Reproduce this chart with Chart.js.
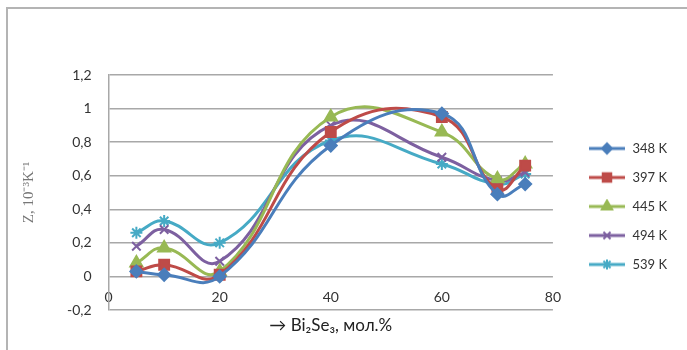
<!DOCTYPE html>
<html>
<head>
<meta charset="utf-8">
<script src="https://cdn.jsdelivr.net/npm/chart.js@4"></script>
<style>
  html, body { margin: 0; padding: 0; background: #fff; overflow: hidden; }
  #frame { position: absolute; left: 6px; top: 7px; width: 720px; height: 380px;
           border-left: 2px solid #b4b4b4; border-top: 2px solid #b4b4b4; }
  #wrap { position: absolute; left: 0; top: 0; width: 687px; height: 350px; }
</style>
</head>
<body>
<div id="frame"></div>
<div id="wrap"><canvas id="myChart"></canvas></div>
<script>
// composition, mol.% Bi2Se3
const xValues = [5, 10, 20, 40, 60, 70, 75];
const temps = ['348 K', '397 K', '445 K', '494 K', '539 K'];
const z348 = [0.03, 0.01, 0.00, 0.78, 0.97, 0.49, 0.55];
const z397 = [0.03, 0.07, 0.01, 0.86, 0.95, 0.52, 0.66];
const z445 = [0.08, 0.17, 0.03, 0.95, 0.86, 0.58, 0.67];
const z494 = [0.18, 0.28, 0.09, 0.90, 0.71, 0.57, 0.62];
const z539 = [0.26, 0.33, 0.20, 0.81, 0.67, 0.55, 0.61];
const yTicks = [-0.2, 0, 0.2, 0.4, 0.6, 0.8, 1, 1.2];
const xTicks = [0, 20, 40, 60, 80];

const series = [z348, z397, z445, z494, z539];
const colors = ['#4a7ebb', '#be4b48', '#98b954', '#7d60a0', '#46aac5'];
const styles = ['rectRot', 'rect', 'triangle', 'crossRot', 'star'];
const radii = [6, 7, 7, 6, 6];

// small line + marker picture for each legend entry (blank strip on the left)
function legendMark(color, style, radius) {
  const c = document.createElement('canvas');
  c.width = 57; c.height = 16;
  const g = c.getContext('2d');
  g.strokeStyle = color; g.fillStyle = color; g.lineWidth = 3;
  g.beginPath(); g.moveTo(20, 8); g.lineTo(56, 8); g.stroke();
  g.lineWidth = 2;
  Chart.helpers.drawPoint(g, {pointStyle: style, radius: radius - 1, rotation: 0, borderWidth: 2}, 38, 8);
  return c;
}
const legendMarks = series.map((s, i) => legendMark(colors[i], styles[i], radii[i]));

const fmt = v => String(Number(v.toFixed(1))).replace('.', ',');

const ctx = document.getElementById('myChart');
new Chart(ctx, {
  type: 'line',
  data: {
    datasets: series.map((s, i) => ({
      label: temps[i],
      data: xValues.map((x, j) => ({x: x, y: s[j]})),
      borderColor: colors[i],
      backgroundColor: colors[i],
      borderWidth: 3,
      pointStyle: styles[i],
      pointRadius: radii[i],
      pointBorderWidth: 2,
      tension: 0.45,
      fill: false
    }))
  },
  options: {
    responsive: true,
    maintainAspectRatio: false,
    animation: false,
    layout: { padding: { left: 10, right: 10, top: 75, bottom: 40 } },
    scales: {
      x: {
        type: 'linear',
        position: { y: 0 },
        min: 0, max: 80,
        afterBuildTicks: axis => { axis.ticks = xTicks.map(v => ({value: v})); },
        grid: { display: false, drawTicks: false },
        border: { display: false },
        ticks: { padding: 13, color: '#333', font: { family: 'Lato', size: 14 } },
        title: {
          display: true,
          text: '\u2192 Bi\u2082Se\u2083, \u043c\u043e\u043b.%',
          color: '#222',
          font: { family: "Lato, 'DejaVu Sans'", size: 17 },
          padding: { top: -4, bottom: 0 }
        }
      },
      y: {
        min: -0.2, max: 1.2,
        afterBuildTicks: axis => { axis.ticks = yTicks.map(v => ({value: v})); },
        grid: { color: '#a8a8a8', lineWidth: 1.5, drawTicks: false },
        border: { color: '#a8a8a8', width: 1.5 },
        ticks: { padding: 17, color: '#333', font: { family: 'Lato', size: 14 }, callback: v => fmt(v) },
        title: {
          display: true,
          text: 'Z, 10\u207b\u00b3K\u207b\u00b9',
          color: '#777',
          font: { family: 'Liberation Serif', size: 15 },
          padding: { top: 10, bottom: 12 }
        }
      }
    },
    plugins: {
      legend: {
        position: 'right',
        title: { display: true, text: ' ', font: { size: 10 }, padding: { top: 16, bottom: 0 } },
        labels: {
          usePointStyle: true,
          pointStyleWidth: 57,
          padding: 16,
          color: '#333',
          font: { family: 'Lato', size: 13 },
          generateLabels: chart => {
            const items = Chart.defaults.plugins.legend.labels.generateLabels(chart);
            items.forEach((it, i) => { it.pointStyle = legendMarks[i]; });
            return items;
          }
        }
      },
      tooltip: { enabled: false }
    }
  }
});
</script>
</body>
</html>
